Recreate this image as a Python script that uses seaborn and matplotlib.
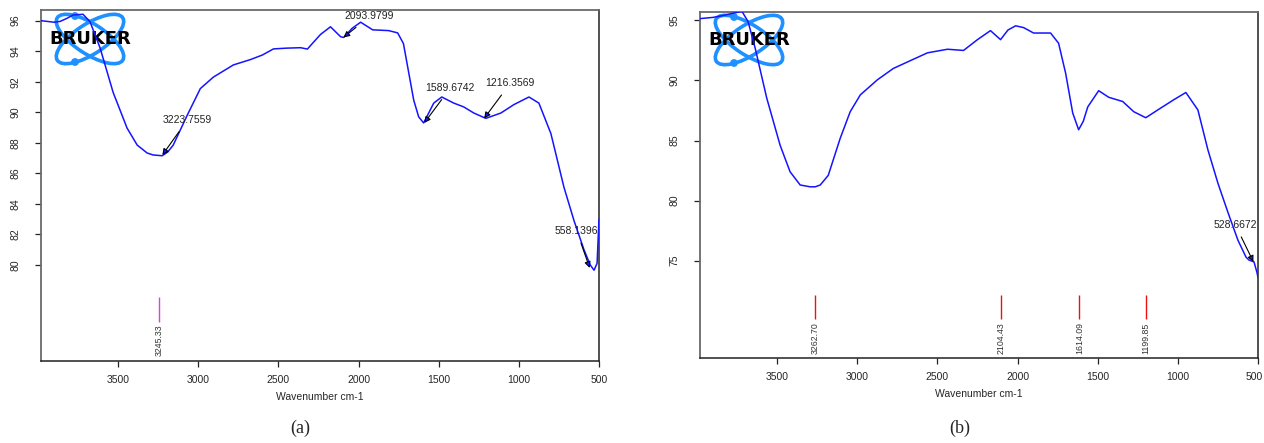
import numpy as np
import pandas as pd
import matplotlib
matplotlib.use("Agg")
import matplotlib.pyplot as plt
import seaborn as sns
from matplotlib.patches import Ellipse, Circle
from matplotlib.transforms import IdentityTransform, blended_transform_factory, offset_copy

# ---------------- data ----------------
wn_a = [3981, 3900, 3862, 3820, 3781, 3719, 3675, 3612, 3531, 3444, 3381, 3319, 3281, 3225,
        3190, 3156, 3069, 2987, 2906, 2781, 2675, 2600, 2531, 2450, 2362, 2319, 2280, 2237,
        2175, 2112, 2093, 2040, 1987, 1912, 1812, 1756, 1720, 1694, 1656, 1625, 1594, 1560,
        1531, 1481, 1406, 1344, 1281, 1206, 1112, 1031, 937, 875, 800, 719, 656, 594, 555,
        531, 512, 500]
T_a = [96.0, 95.9, 95.95, 96.15, 96.37, 96.42, 95.93, 94.2, 91.3, 88.96, 87.85, 87.33, 87.2,
       87.15, 87.4, 87.85, 89.8, 91.55, 92.3, 93.1, 93.45, 93.75, 94.15, 94.2, 94.23, 94.14,
       94.6, 95.1, 95.6, 94.95, 94.9, 95.5, 95.9, 95.4, 95.35, 95.2, 94.5, 93.0, 90.8, 89.7,
       89.3, 90.0, 90.6, 91.0, 90.6, 90.35, 89.95, 89.6, 89.95, 90.5, 91.0, 90.6, 88.6, 85.1,
       82.9, 81.0, 80.0, 79.65, 80.1, 83.0]

wn_b = [3981, 3900, 3840, 3775, 3719, 3681, 3637, 3565, 3481, 3419, 3356, 3294, 3262, 3231,
        3181, 3106, 3044, 2981, 2875, 2775, 2669, 2562, 2437, 2337, 2250, 2169, 2106, 2060,
        2012, 1962, 1900, 1794, 1744, 1700, 1656, 1619, 1590, 1562, 1494, 1431, 1344, 1275,
        1200, 1125, 1025, 950, 875, 812, 750, 687, 625, 575, 556, 525, 506, 500]
T_b = [95.15, 95.25, 95.4, 95.6, 95.75, 94.9, 92.7, 88.55, 84.6, 82.4, 81.3, 81.15, 81.15,
       81.3, 82.1, 85.2, 87.4, 88.8, 90.05, 91.0, 91.65, 92.3, 92.6, 92.5, 93.4, 94.15, 93.4,
       94.2, 94.55, 94.4, 93.95, 93.95, 93.1, 90.6, 87.3, 85.9, 86.6, 87.8, 89.15, 88.6,
       88.25, 87.4, 86.9, 87.55, 88.4, 89.0, 87.55, 84.2, 81.45, 79.0, 76.7, 75.3, 75.05,
       74.9, 74.0, 73.6]

ann_a_wn = [3223.7559, 2093.9799, 1589.6742, 1216.3569, 558.1396]
ann_a_T = [87.2, 94.9, 89.3, 89.6, 79.8]
ann_b_wn = [528.6672]
ann_b_T = [74.9]

peaks_a = [3245.33]
peaks_b = [3262.70, 2104.43, 1614.09, 1199.85]

yticks_a = [80, 82, 84, 86, 88, 90, 92, 94, 96]
yticks_b = [75, 80, 85, 90, 95]
xticks = [3500, 3000, 2500, 2000, 1500, 1000, 500]

# ---------------- style ----------------
sns.set_style("ticks")
plt.rcParams["font.family"] = ["Liberation Sans", "DejaVu Sans"]

W, H = 1264, 443
fig = plt.figure(figsize=(W / 100, H / 100), dpi=100)
axA = fig.add_axes([41 / W, 1 - 361 / H, 558 / W, 351 / H])
axB = fig.add_axes([700 / W, 1 - 358 / H, 558 / W, 346 / H])

LINE = "#1414ff"
LOGO = "#1e90ff"


def draw_logo(ax, cx, cy):
    yd = H - cy
    tr = IdentityTransform()
    for ang in (33, -33):
        ax.add_patch(Ellipse((cx, yd), 78, 30, angle=ang, fill=False, ec=LOGO, lw=2.6,
                             transform=tr, clip_on=False, zorder=1))
    for dy in (-23, 23):
        ax.add_patch(Circle((cx - 15, yd - dy), 3.2, color=LOGO, transform=tr,
                            clip_on=False, zorder=1))
    ax.text(cx, yd, "BRUKER", transform=tr, ha="center", va="center",
            family="DejaVu Sans", fontweight="heavy", fontsize=13, color="black",
            zorder=2)


def panel(ax, wn, T, ylim, yticks, peaks, pcolor, ann_wn, ann_T, ann_off, logo_c,
          shift_last=False):
    df = pd.DataFrame({"wn": wn, "T": T})
    sns.lineplot(data=df, x="wn", y="T", ax=ax, color=LINE, lw=1.1,
                 estimator=None, sort=False, zorder=3)
    ax.set_xlim(3981, 500)
    ax.set_ylim(*ylim)
    ax.set_xticks(xticks)
    ax.set_xticklabels([str(v) for v in xticks])
    ax.set_yticks(yticks)
    ax.set_yticklabels([str(v) for v in yticks])
    ax.tick_params(axis="both", labelsize=7.5, length=4, width=0.9, color="#222222")
    ax.tick_params(axis="x", pad=6)
    ax.tick_params(axis="y", labelrotation=90, pad=11)
    for lbl in ax.get_yticklabels():
        lbl.set_va("center")
    if shift_last:
        last = ax.get_xticklabels()[-1]
        last.set_ha("right")
        last.set_transform(offset_copy(last.get_transform(), fig=fig, x=5, y=0,
                                       units="dots"))
    ax.set_xlabel("Wavenumber cm-1", fontsize=7.5, labelpad=5)
    ax.set_ylabel("")
    for s in ("top", "left"):
        ax.spines[s].set_color("#6a6a6a")
        ax.spines[s].set_linewidth(1.3)
    for s in ("bottom", "right"):
        ax.spines[s].set_color("#222222")
        ax.spines[s].set_linewidth(1.1)

    bt = blended_transform_factory(ax.transData, ax.transAxes)
    ax.vlines(peaks, 0.112, 0.183, transform=bt, color=pcolor, lw=1.0)
    for p in peaks:
        ax.text(p, 0.103, f"{p:.2f}", transform=bt, rotation=90, ha="center",
                va="top", fontsize=6.3, color="#333333")

    for w, t, off in zip(ann_wn, ann_T, ann_off):
        ax.annotate(f"{w:.4f}", xy=(w, t), xytext=off, textcoords="offset pixels",
                    ha="center", va="center", fontsize=7.5, color="#222222",
                    arrowprops=dict(arrowstyle="-|>", ec="black", fc="#1a1aff", lw=0.8,
                                    mutation_scale=9, shrinkA=3, shrinkB=0))
    draw_logo(ax, *logo_c)


panel(axA, wn_a, T_a, (73.7, 96.7), yticks_a, peaks_a, "#e040e0",
      ann_a_wn, ann_a_T, [(25, 35), (26, 21), (26, 35), (26, 35), (-13, 37)], (90, 39))
panel(axB, wn_b, T_b, (66.9, 95.7), yticks_b, peaks_b, "#ee1111",
      ann_b_wn, ann_b_T, [(-18, 37)], (749, 40), shift_last=True)

fig.text(300 / W, 1 - 428 / H, "(a)", family="Liberation Serif", fontsize=13,
         ha="center", va="center")
fig.text(960 / W, 1 - 428 / H, "(b)", family="Liberation Serif", fontsize=13,
         ha="center", va="center")

fig.savefig("out.png", dpi=100)
